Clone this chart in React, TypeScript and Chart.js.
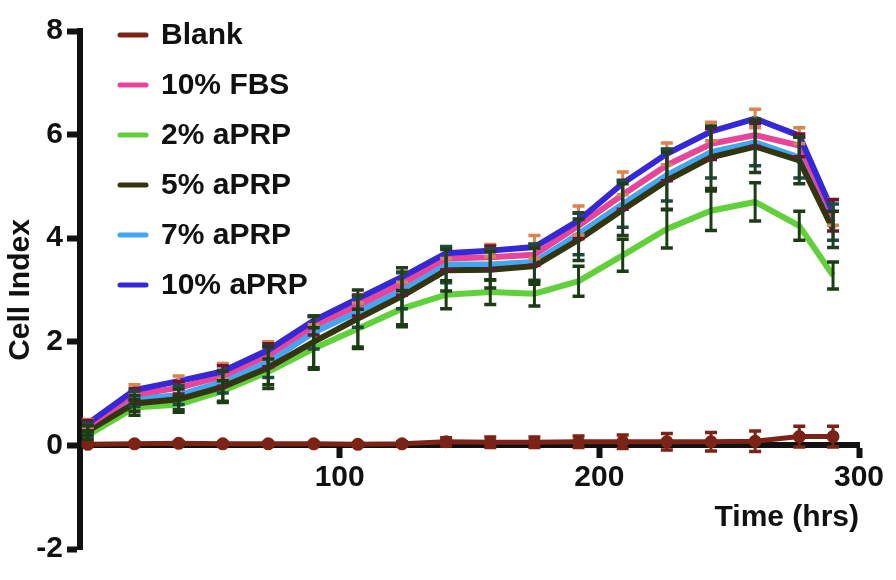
import { Chart, registerables } from "chart.js";
import { useEffect, useRef } from "react";

Chart.register(...registerables);

// sampling times (hrs)
const times = [3, 21, 38, 55, 72.5, 90, 107, 124, 141, 158, 175, 192, 209, 226, 243, 260, 277, 290];

const seriesNames = ["Blank", "10% FBS", "2% aPRP", "5% aPRP", "7% aPRP", "10% aPRP"];

const blank = [0.02, 0.03, 0.04, 0.03, 0.03, 0.03, 0.02, 0.03, 0.07, 0.06, 0.06, 0.07, 0.07, 0.07, 0.07, 0.08, 0.17, 0.17];
const fbs10 = [0.38, 0.98, 1.11, 1.34, 1.74, 2.31, 2.7, 3.12, 3.61, 3.63, 3.68, 4.24, 4.84, 5.41, 5.82, 5.99, 5.79, 4.44];
const aprp2 = [0.2, 0.73, 0.79, 1.05, 1.42, 1.87, 2.25, 2.64, 2.91, 2.96, 2.93, 3.17, 3.67, 4.18, 4.53, 4.7, 4.24, 3.28];
const aprp5 = [0.28, 0.81, 0.89, 1.13, 1.5, 2.0, 2.45, 2.88, 3.38, 3.39, 3.46, 3.97, 4.55, 5.11, 5.56, 5.77, 5.5, 4.17];
const aprp7 = [0.33, 0.9, 0.97, 1.23, 1.61, 2.18, 2.58, 2.99, 3.49, 3.49, 3.54, 4.08, 4.66, 5.22, 5.66, 5.85, 5.56, 4.31];
const aprp10 = [0.42, 1.07, 1.24, 1.43, 1.84, 2.41, 2.83, 3.25, 3.71, 3.76, 3.83, 4.34, 5.06, 5.63, 6.06, 6.31, 5.98, 4.5];

// error bar half-heights
const blankErr = [0.03, 0.03, 0.03, 0.03, 0.03, 0.03, 0.03, 0.04, 0.08, 0.1, 0.1, 0.11, 0.13, 0.16, 0.18, 0.2, 0.2, 0.2];
const fbs10Err = [0.1, 0.12, 0.12, 0.2, 0.22, 0.18, 0.2, 0.22, 0.22, 0.22, 0.2, 0.25, 0.28, 0.3, 0.3, 0.22, 0.22, 0.3];
const aprp2Err = [0.08, 0.15, 0.15, 0.2, 0.25, 0.4, 0.38, 0.35, 0.27, 0.24, 0.24, 0.29, 0.31, 0.37, 0.38, 0.37, 0.28, 0.26];
const aprp5Err = [0.1, 0.15, 0.2, 0.3, 0.4, 0.5, 0.55, 0.55, 0.4, 0.35, 0.35, 0.4, 0.5, 0.55, 0.6, 0.5, 0.45, 0.35];
const aprp7Err = [0.1, 0.15, 0.18, 0.22, 0.3, 0.32, 0.3, 0.35, 0.35, 0.3, 0.35, 0.4, 0.45, 0.5, 0.5, 0.45, 0.4, 0.35];
const aprp10Err = [0.08, 0.1, 0.1, 0.15, 0.16, 0.08, 0.08, 0.1, 0.1, 0.12, 0.22, 0.28, 0.22, 0.21, 0.18, 0.18, 0.15, 0.25];

const xTicks = [100, 200, 300];

const values = [blank, fbs10, aprp2, aprp5, aprp7, aprp10];
const errors = [blankErr, fbs10Err, aprp2Err, aprp5Err, aprp7Err, aprp10Err];
const lineColors = ["#7b2316", "#e8449a", "#62d03a", "#34340f", "#42a6f2", "#3528d6"];
const errColors = ["#7b2316", "#6d1436", "#1c3d14", "#223d1e", "#1d4a45", "#d9834f"];
// lower order is drawn on top
const drawOrder = [0, 2, 4, 3, 5, 1];
// error bars drawn in this sequence (later covers earlier)
const errSequence = [5, 1, 4, 3, 2, 0];

const FONT = "'Liberation Sans', Arial, sans-serif";

const errorBars = {
  id: "errorBars",
  afterDatasetsDraw(chart: any) {
    const { ctx, scales } = chart;
    ctx.save();
    for (const s of errSequence) {
      ctx.strokeStyle = errColors[s];
      times.forEach((t, j) => {
        const x = scales.x.getPixelForValue(t);
        const top = scales.y.getPixelForValue(values[s][j] + errors[s][j]);
        const bot = scales.y.getPixelForValue(values[s][j] - errors[s][j]);
        ctx.lineWidth = 3;
        ctx.beginPath();
        ctx.moveTo(x, top);
        ctx.lineTo(x, bot);
        ctx.stroke();
        ctx.lineWidth = 3.5;
        ctx.beginPath();
        ctx.moveTo(x - 6, top);
        ctx.lineTo(x + 6, top);
        ctx.moveTo(x - 6, bot);
        ctx.lineTo(x + 6, bot);
        ctx.stroke();
      });
    }
    ctx.restore();
  },
};

const insideLegend = {
  id: "insideLegend",
  afterDraw(chart: any) {
    const { ctx } = chart;
    ctx.save();
    ctx.font = `bold 30px ${FONT}`;
    ctx.textBaseline = "middle";
    ctx.lineCap = "round";
    seriesNames.forEach((name, i) => {
      const y = 35 + i * 50;
      ctx.strokeStyle = lineColors[i];
      ctx.lineWidth = 5;
      ctx.beginPath();
      ctx.moveTo(120, y);
      ctx.lineTo(146, y);
      ctx.stroke();
      ctx.fillStyle = "#111";
      ctx.fillText(name, 161, y + 1);
    });
    ctx.restore();
  },
};

const App = () => {
  const canvasRef = useRef<HTMLCanvasElement | null>(null);

  useEffect(() => {
    if (!canvasRef.current) return;

    const chart = new Chart(canvasRef.current, {
      type: "line",
      data: {
        datasets: seriesNames.map((name, i) => ({
          label: name,
          data: times.map((t, j) => ({ x: t, y: values[i][j] })),
          borderColor: lineColors[i],
          backgroundColor: lineColors[i],
          borderWidth: i === 0 ? 5 : 6,
          pointRadius: i === 0 ? 4 : 0,
          tension: 0,
          order: drawOrder[i],
        })),
      },
      options: {
        animation: false,
        responsive: false,
        layout: { padding: { top: 31, bottom: 31, left: 0, right: 37 } },
        plugins: {
          legend: { display: false },
          tooltip: { enabled: false },
        },
        scales: {
          x: {
            type: "linear",
            position: { y: 0 },
            min: 0,
            max: 300,
            afterBuildTicks: (axis: any) => {
              axis.ticks = xTicks.map((v) => ({ value: v }));
            },
            grid: {
              drawOnChartArea: false,
              drawTicks: true,
              tickLength: 10,
              tickWidth: 6,
              tickColor: "#111",
            },
            border: { display: true, width: 6, color: "#111" },
            ticks: {
              color: "#111",
              padding: 4,
              maxRotation: 0,
              font: { family: FONT, size: 30, weight: "bold" },
            },
            title: {
              display: true,
              text: "Time (hrs)",
              align: "end",
              color: "#111",
              padding: { top: 0, bottom: 0 },
              font: { family: FONT, size: 30, weight: "bold" },
            },
          },
          y: {
            type: "linear",
            min: -2,
            max: 8,
            afterFit: (scale: any) => {
              scale.width = 80;
            },
            grid: {
              drawOnChartArea: false,
              drawTicks: true,
              tickLength: 13,
              tickWidth: 6,
              tickColor: "#111",
            },
            border: { display: true, width: 6, color: "#111" },
            ticks: {
              stepSize: 2,
              color: "#111",
              padding: 4,
              font: { family: FONT, size: 30, weight: "bold" },
            },
            title: {
              display: true,
              text: "Cell Index",
              color: "#111",
              padding: { top: 3, bottom: 0 },
              font: { family: FONT, size: 30, weight: "bold" },
            },
          },
        },
      },
      plugins: [errorBars, insideLegend],
    });

    return () => {
      chart.destroy();
    };
  }, []);

  return (
    <div style={{ position: "absolute", left: 0, top: 0, width: 896, height: 580, background: "#fff" }}>
      <canvas ref={canvasRef} width={896} height={580}></canvas>
    </div>
  );
};

export default App;
